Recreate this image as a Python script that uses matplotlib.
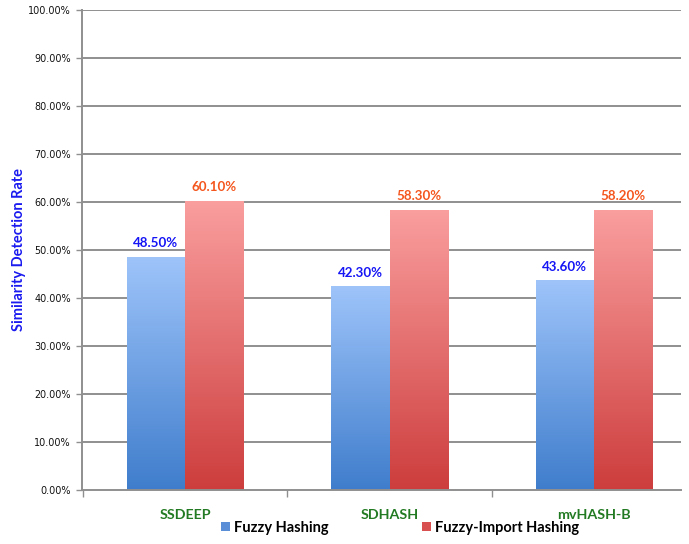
import matplotlib
matplotlib.use("Agg")
import matplotlib.pyplot as plt
import numpy as np
from matplotlib.colors import LinearSegmentedColormap
from matplotlib.patches import Patch

categories = ["SSDEEP", "SDHASH", "mvHASH-B"]
fuzzy = [48.50, 42.30, 43.60]
fuzzy_import = [60.10, 58.30, 58.20]
series_names = ["Fuzzy Hashing", "Fuzzy-Import Hashing"]
yticks = [0, 10, 20, 30, 40, 50, 60, 70, 80, 90, 100]

W, H = 689, 544
fig = plt.figure(figsize=(W / 100, H / 100), dpi=100)
ax = fig.add_axes([82 / W, 1 - 489.7 / H, (681 - 82) / W, (489.7 - 9.7) / H])

blue_cmap = LinearSegmentedColormap.from_list("b", ["#3f7dcc", "#9ec4fa"])
red_cmap = LinearSegmentedColormap.from_list("r", ["#cd3d3d", "#fa9e9e"])
grad = np.linspace(0, 1, 256).reshape(-1, 1)

x = np.arange(len(categories))
bw = 0.286

# grid
for yv in yticks[1:]:
    ax.axhline(yv, color="#8f8f8f", lw=1.4, zorder=1)

for i in range(len(categories)):
    for x0, h, cmap in [(x[i] - bw, fuzzy[i], blue_cmap), (x[i], fuzzy_import[i], red_cmap)]:
        ax.imshow(grad, cmap=cmap, origin="lower", aspect="auto",
                  extent=[x0, x0 + bw, 0, h], zorder=2, interpolation="bilinear")
    ax.annotate(f"{fuzzy[i]:.2f}%", (x[i] - bw / 2, fuzzy[i]), xytext=(0, 10),
                textcoords="offset points", ha="center", va="center",
                color="#1515f5", fontsize=9.6, fontweight="bold", family="Lato")
    ax.annotate(f"{fuzzy_import[i]:.2f}%", (x[i] + bw / 2, fuzzy_import[i]), xytext=(0, 10),
                textcoords="offset points", ha="center", va="center",
                color="#f4561e", fontsize=9.6, fontweight="bold", family="Lato")

ax.set_xlim(-0.504, 2.425)
ax.set_ylim(0, 100)

for s in ["top", "right"]:
    ax.spines[s].set_visible(False)
ax.spines["left"].set_color("#8f8f8f")
ax.spines["bottom"].set_color("#8f8f8f")
ax.spines["left"].set_linewidth(1.4)
ax.spines["bottom"].set_linewidth(1.4)

ax.set_yticks(yticks)
ax.set_yticklabels([f"{v:.2f}%" for v in yticks], fontsize=6.9, color="#111111")
ax.tick_params(axis="y", length=4, width=1, color="#8f8f8f", pad=4)

ax.set_xticks(x)
ax.set_xticklabels(categories, fontsize=10.3, fontweight="bold", color="#227a22", family="Lato")
ax.tick_params(axis="x", which="major", length=0, pad=14)
ax.set_xticks([-0.5, 0.5, 1.5], minor=True)
ax.tick_params(axis="x", which="minor", length=5, width=1, color="#8f8f8f")

fig.text(19 / W, 1 - 250 / H, "Similarity Detection Rate", rotation=90, ha="center", va="center",
         fontsize=10.5, fontweight="bold", color="#1a1af0", family="Lato")

handles = [Patch(facecolor="#5a8fd8", edgecolor="none"), Patch(facecolor="#d95050", edgecolor="none")]
fig.legend(handles, series_names, loc="center", bbox_to_anchor=(400 / W, 1 - 528 / H),
           ncol=2, frameon=False, handlelength=0.6, handleheight=0.6, handletextpad=0.3,
           columnspacing=6.4, prop={"family": "Lato", "weight": "bold", "size": 10.5})

fig.savefig("out.png", dpi=100)
